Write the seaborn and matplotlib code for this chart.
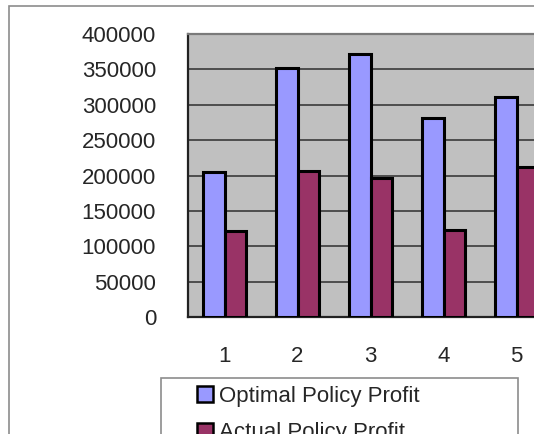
import matplotlib
matplotlib.use("Agg")
import matplotlib.pyplot as plt
from matplotlib.patches import Rectangle, Patch
import seaborn as sns
import pandas as pd

periods = ["1", "2", "3", "4", "5"]
optimal = [205000, 352000, 372000, 281000, 311000]
actual = [122000, 206000, 196000, 123000, 212000]
series_names = ["Optimal Policy Profit", "Actual Policy Profit"]
yticks = [0, 50000, 100000, 150000, 200000, 250000, 300000, 350000, 400000]
colors = ["#9999FF", "#993366"]

df = pd.DataFrame({
    "period": periods * 2,
    "profit": optimal + actual,
    "series": [series_names[0]] * len(periods) + [series_names[1]] * len(periods),
})

sns.set_style("white")
plt.rcParams["font.family"] = ["Liberation Sans", "DejaVu Sans"]

W, H = 534, 434
fig = plt.figure(figsize=(W / 100, H / 100), dpi=100)
fig.patch.set_facecolor("white")

# outer chart border (cut off at right and bottom)
fig.patches.append(Rectangle((9 / W, -0.2), 1.2, 1 - 6 / H + 0.2, transform=fig.transFigure,
                             fill=False, edgecolor="#8c8c8c", linewidth=1.2, zorder=0))

left, right, top, bottom = 188, 553, 34, 317
ax = fig.add_axes([left / W, 1 - bottom / H, (right - left) / W, (bottom - top) / H])
ax.set_facecolor("#C0C0C0")

sns.barplot(data=df, x="period", y="profit", hue="series", palette=colors,
            width=0.58, edgecolor="black", linewidth=2.2, ax=ax, legend=False,
            saturation=1, zorder=3)

ax.set_xlim(-0.5, len(periods) - 0.5)
ax.set_ylim(0, 400000)
ax.set_yticks(yticks)
ax.set_yticklabels([str(v) for v in yticks], fontsize=16)
ax.set_xticks(range(len(periods)))
ax.set_xticklabels(periods, fontsize=16)
ax.set_xticks([i - 0.5 for i in range(len(periods) + 1)], minor=True)
ax.tick_params(axis="x", which="major", length=0, pad=21)
ax.tick_params(axis="x", which="minor", length=7, width=1.2, color="#333333", direction="out")
ax.tick_params(axis="y", which="major", length=9, width=1.2, color="#333333", direction="out", pad=14)
ax.set_xlabel("")
ax.set_ylabel("")
ax.yaxis.grid(True, color="#3a3a3a", linewidth=1.2, zorder=1)
ax.set_axisbelow(True)
for s in ["left", "bottom"]:
    ax.spines[s].set_color("#222222")
    ax.spines[s].set_linewidth(1.6)
ax.spines["top"].set_color("#7a7a7a")
ax.spines["top"].set_linewidth(1.6)
ax.spines["right"].set_visible(False)

# legend frame (cut off)
fig.patches.append(Rectangle((161 / W, -0.2), (518 - 161) / W, 1 - 378 / H + 0.2,
                             transform=fig.transFigure, facecolor="white",
                             edgecolor="#8c8c8c", linewidth=1.2, zorder=1))
handles = [Patch(facecolor=c, edgecolor="black", linewidth=1.8) for c in colors]
leg = fig.legend(handles, series_names, loc="upper left",
                 bbox_to_anchor=(197 / W, 1 - 386 / H), frameon=False,
                 fontsize=16, handlelength=0.7, handleheight=0.7,
                 handletextpad=0.3, labelspacing=0.68, borderaxespad=0, borderpad=0)
leg.set_zorder(5)

fig.savefig("out.png", dpi=100)
